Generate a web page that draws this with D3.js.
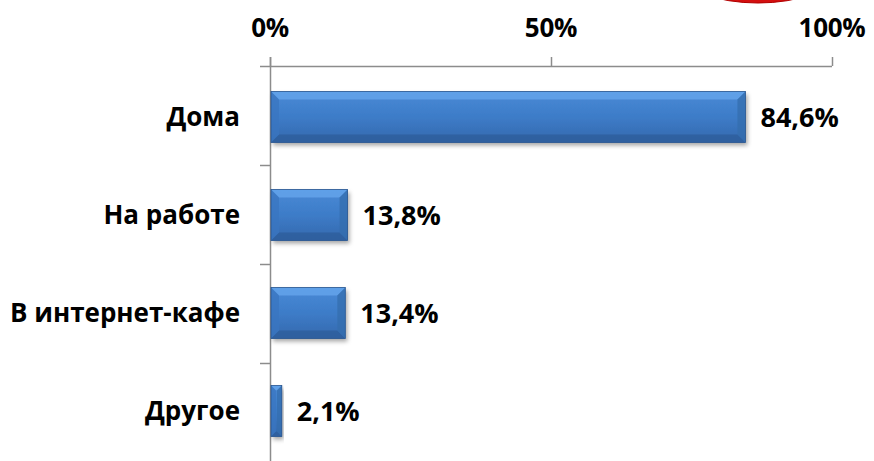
<!DOCTYPE html>
<html><head><meta charset="utf-8">
<script src="https://cdn.jsdelivr.net/npm/d3@7"></script>
<style>html,body{margin:0;padding:0;background:#fff;}svg{display:block;}</style>
</head><body>
<svg id="c" width="874" height="461"></svg>
<script>
const categories = ["Дома", "На работе", "В интернет-кафе", "Другое"];
const values = [84.6, 13.8, 13.4, 2.1];
const valueLabels = ["84,6%", "13,8%", "13,4%", "2,1%"];
const tickValues = [0, 50, 100];
const tickLabels = ["0%", "50%", "100%"];

const svg = d3.select("#c");
const FONT = "'Open Sans', 'Liberation Sans', sans-serif";
const x = d3.scaleLinear().domain([0, 100]).range([270, 832]);
const y = d3.scaleBand().domain(categories).range([66, 462]).paddingInner(0.48).paddingOuter(0.26);
const yb = d3.scaleBand().domain(categories).range([66, 462]);

const defs = svg.append("defs");
const g = defs.append("linearGradient").attr("id", "bg").attr("x1", 0).attr("y1", 0).attr("x2", 0).attr("y2", 1);
g.append("stop").attr("offset", "0%").attr("stop-color", "#4a8ad6");
g.append("stop").attr("offset", "50%").attr("stop-color", "#3d7cc8");
g.append("stop").attr("offset", "100%").attr("stop-color", "#3468ad");
const f = defs.append("filter").attr("id", "sh").attr("x", "-10%").attr("y", "-20%").attr("width", "130%").attr("height", "160%");
f.append("feDropShadow").attr("dx", 2).attr("dy", 3).attr("stdDeviation", 2).attr("flood-color", "#000").attr("flood-opacity", 0.35);

// red shape at top (bottom of a cropped red oval)
svg.append("ellipse").attr("cx", 758).attr("cy", -27).attr("rx", 76).attr("ry", 30)
  .attr("fill", "#d40f0f").attr("stroke", "#b00000").attr("stroke-width", 1);

// top axis
const axisColor = "#8c8c8c";
const ax = svg.append("g");
ax.append("line").attr("x1", 260).attr("x2", x(100)).attr("y1", 66.5).attr("y2", 66.5)
  .attr("stroke", axisColor).attr("stroke-width", 1.5);
ax.selectAll("line.t").data(tickValues).join("line").attr("class", "t")
  .attr("x1", d => Math.round(x(d)) + 0.5).attr("x2", d => Math.round(x(d)) + 0.5)
  .attr("y1", 57).attr("y2", 66).attr("stroke", axisColor).attr("stroke-width", 1.5);
ax.selectAll("text").data(tickValues).join("text")
  .attr("x", d => x(d)).attr("y", 37).attr("text-anchor", "middle")
  .attr("font-family", FONT).attr("font-weight", "bold").attr("font-size", 26).attr("fill", "#000")
  .attr("letter-spacing", -0.3)
  .text((d, i) => tickLabels[i]);

// vertical axis
svg.append("line").attr("x1", 270.5).attr("x2", 270.5).attr("y1", 57).attr("y2", 461)
  .attr("stroke", axisColor).attr("stroke-width", 1.5);
const bounds = categories.map(c => yb(c) + yb.bandwidth()).slice(0, 3);
svg.selectAll("line.ct").data(bounds).join("line").attr("class", "ct")
  .attr("x1", 260).attr("x2", 270).attr("y1", d => Math.round(d) + 0.5).attr("y2", d => Math.round(d) + 0.5)
  .attr("stroke", axisColor).attr("stroke-width", 1.5);

// category labels
svg.selectAll("text.cat").data(categories).join("text").attr("class", "cat")
  .attr("x", 240).attr("y", d => y(d) + y.bandwidth() / 2 + 9).attr("text-anchor", "end")
  .attr("font-family", FONT).attr("font-weight", "bold").attr("font-size", 26).attr("fill", "#000")
  .text(d => d);

// bars
const bars = svg.selectAll("g.bar").data(categories).join("g").attr("class", "bar");
bars.each(function(c, i) {
  const gg = d3.select(this);
  const x0 = x(0) + 1, x1 = x(values[i]), y0 = y(c), h = y.bandwidth(), y1 = y0 + h;
  const w = x1 - x0;
  const b = Math.min(8, w / 2.2, h / 3);
  gg.append("rect").attr("x", x0).attr("y", y0).attr("width", w).attr("height", h)
    .attr("fill", "url(#bg)").attr("filter", "url(#sh)");
  gg.append("polygon").attr("points", [[x0, y0], [x1, y0], [x1 - b, y0 + b], [x0 + b, y0 + b]].map(p => p.join(",")).join(" "))
    .attr("fill", "#6aaaf0").attr("opacity", 0.7);
  gg.append("polygon").attr("points", [[x0, y1], [x1, y1], [x1 - b, y1 - b], [x0 + b, y1 - b]].map(p => p.join(",")).join(" "))
    .attr("fill", "#2c5b97").attr("opacity", 0.65);
  gg.append("polygon").attr("points", [[x0, y0], [x0 + b, y0 + b], [x0 + b, y1 - b], [x0, y1]].map(p => p.join(",")).join(" "))
    .attr("fill", "#3a76c0").attr("opacity", 0.75);
  gg.append("polygon").attr("points", [[x1, y0], [x1 - b, y0 + b], [x1 - b, y1 - b], [x1, y1]].map(p => p.join(",")).join(" "))
    .attr("fill", "#346dae").attr("opacity", 0.75);
  gg.append("rect").attr("x", x0).attr("y", y0).attr("width", w).attr("height", h)
    .attr("fill", "none").attr("stroke", "#2a5690").attr("stroke-width", 0.8);
  gg.append("text").attr("x", x1 + 15).attr("y", y0 + h / 2 + 10)
    .attr("font-family", FONT).attr("font-weight", "bold").attr("font-size", 27).attr("fill", "#000")
    .text(valueLabels[i]);
});
</script>
</body></html>
